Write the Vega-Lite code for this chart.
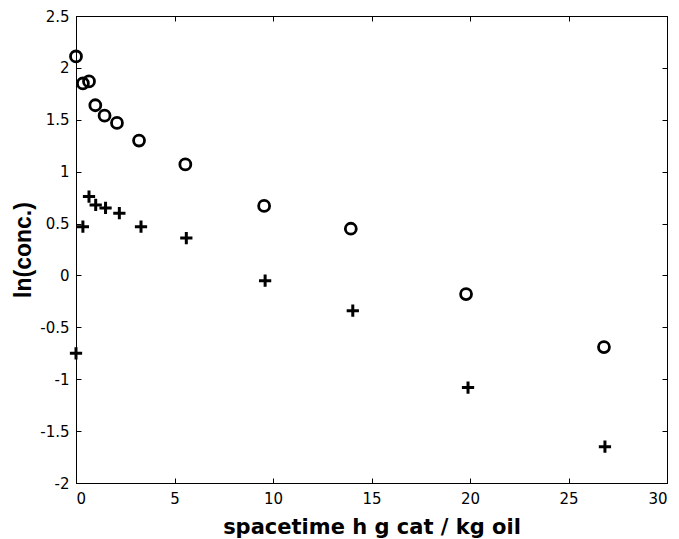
{
  "$schema": "https://vega.github.io/schema/vega-lite/v6.json",
  "width": 591,
  "height": 467,
  "autosize": "none",
  "padding": {"left": 76, "top": 16, "right": 12, "bottom": 56},
  "background": "white",
  "config": {
    "view": {"stroke": "black", "strokeWidth": 1},
    "axis": {
      "grid": false,
      "domainColor": "black",
      "tickColor": "black",
      "labelColor": "black",
      "titleColor": "black",
      "labelFont": "DejaVu Sans",
      "titleFont": "DejaVu Sans",
      "labelFontSize": 15,
      "titleFontSize": 21,
      "titleFontWeight": "bold",
      "tickSize": -5
    }
  },
  "datasets": {
    "circ": [
      {"t": 0.0, "v": 2.11},
      {"t": 0.35, "v": 1.85},
      {"t": 0.66, "v": 1.87},
      {"t": 0.98, "v": 1.64},
      {"t": 1.45, "v": 1.54},
      {"t": 2.08, "v": 1.47},
      {"t": 3.2, "v": 1.30},
      {"t": 5.55, "v": 1.07},
      {"t": 9.55, "v": 0.67},
      {"t": 13.95, "v": 0.45},
      {"t": 19.8, "v": -0.18},
      {"t": 26.8, "v": -0.69}
    ],
    "plus": [
      {"t": 0.0, "v": -0.75},
      {"t": 0.35, "v": 0.47},
      {"t": 0.66, "v": 0.76},
      {"t": 1.0, "v": 0.68},
      {"t": 1.5, "v": 0.65},
      {"t": 2.2, "v": 0.60},
      {"t": 3.3, "v": 0.47},
      {"t": 5.6, "v": 0.36},
      {"t": 9.6, "v": -0.05},
      {"t": 14.05, "v": -0.34},
      {"t": 19.9, "v": -1.08},
      {"t": 26.85, "v": -1.65}
    ]
  },
  "layer": [
    {
      "data": {"name": "circ"},
      "mark": {"type": "point", "shape": "circle", "filled": false, "color": "black", "size": 120, "strokeWidth": 2.8, "opacity": 1},
      "encoding": {
        "x": {
          "field": "t", "type": "quantitative",
          "scale": {"domain": [0, 30], "nice": false, "zero": false},
          "axis": {"orient": "bottom", "values": [0, 5, 10, 15, 20, 25, 30], "title": "spacetime h g cat / kg oil", "titlePadding": 10, "labelPadding": 13}
        },
        "y": {
          "field": "v", "type": "quantitative",
          "scale": {"domain": [-2, 2.5], "nice": false, "zero": false},
          "axis": {"orient": "left", "values": [-2, -1.5, -1, -0.5, 0, 0.5, 1, 1.5, 2, 2.5], "labelExpr": "'' + datum.value", "title": "ln(conc.)", "titleFont": "Liberation Sans", "titleFontSize": 23, "titlePadding": 4, "labelPadding": 12}
        }
      }
    },
    {
      "data": {"name": "plus"},
      "mark": {"type": "point", "shape": "M-1,0H1M0,-1V1", "filled": false, "color": "black", "size": 150, "strokeWidth": 3, "opacity": 1},
      "encoding": {
        "x": {
          "field": "t", "type": "quantitative",
          "scale": {"domain": [0, 30], "nice": false, "zero": false},
          "axis": {"orient": "top", "values": [0, 5, 10, 15, 20, 25, 30], "labels": false, "title": null}
        },
        "y": {
          "field": "v", "type": "quantitative",
          "scale": {"domain": [-2, 2.5], "nice": false, "zero": false},
          "axis": {"orient": "right", "values": [-2, -1.5, -1, -0.5, 0, 0.5, 1, 1.5, 2, 2.5], "labels": false, "title": null}
        }
      }
    }
  ],
  "resolve": {"axis": {"x": "independent", "y": "independent"}}
}
